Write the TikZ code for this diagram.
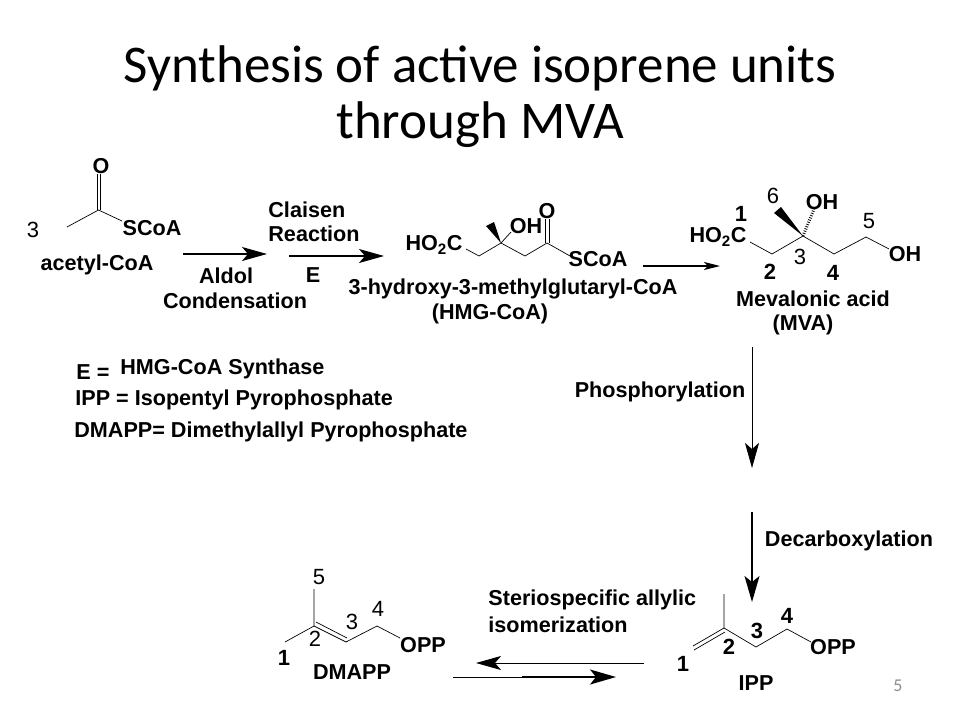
\documentclass[tikz,border=0pt]{standalone}
\usepackage{fontspec}
\setmainfont{Liberation Sans}
\newfontfamily\titlefont{Carlito}
\usetikzlibrary{arrows.meta,calc}

\begin{document}
\begin{tikzpicture}[x=1pt,y=-1pt,thick,
titulo/.style ={inner sep=0pt, font=\titlefont\fontsize{53}{53}\selectfont},
chem/.style ={inner sep=0pt, font=\bfseries\fontsize{21.6}{21.6}\selectfont},
chemleft/.style ={chem, anchor=west},
num/.style ={inner sep=0pt, font=\fontsize{22}{22}\selectfont},
numb/.style ={chem, font=\bfseries\fontsize{22}{22}\selectfont},
bond/.style ={line width=0.7pt},
wedge/.style ={fill=black, draw=none},
hash/.style ={line width=3pt, dash pattern=on 0.8pt off 1.6pt},
flecha/.style ={line width=1.2pt, -{Stealth[length=25pt,width=14pt,inset=6pt]}},
corta/.style ={line width=1.2pt, -{Stealth[length=16pt,width=8pt,inset=4pt]}},
fina/.style ={line width=0.8pt, -{Stealth[length=25pt,width=14pt,inset=6pt]}},
gorda/.style ={line width=1.7pt, -{Stealth[length=26pt,width=15pt,inset=6pt]}}
]
\useasboundingbox (0,0) rectangle (960,720);
% title
\draw (480,68) node[titulo] (T1) {Synthesis of active isoprene units};
\draw (480,125) node[titulo] (T2) {through MVA};

% acetyl-CoA
\draw (101,166) node[chem] (AO) {O};
\draw (152,228) node[chem] (AS) {SCoA};
\draw (33,230) node[num] (A3) {3};
\draw (97,265) node[chem] (AN) {acetyl-CoA};
\coordinate (AC) at (98.5,210);
\coordinate (AM) at (67,227);
\draw[bond] (AM)--(AC)--(122,221);
\draw[bond] (97,174)--(97,210);
\draw[bond] (100.7,174)--(100.7,210);

% first arrows
\coordinate (F1a) at (183,254);
\coordinate (F1b) at (267,254);
\draw[flecha] (F1a)--(F1b);
\draw (226,276) node[chem] (Ald) {Aldol};
\draw (235,301) node[chem] (Con) {Condensation};
\draw (268,210) node[chemleft] (Cla) {Claisen};
\draw (268,234) node[chemleft] (Rea) {Reaction};
\draw (313,275) node[chem] (E) {E};
\coordinate (F2a) at (289,256);
\coordinate (F2b) at (384,256);
\draw[flecha] (F2a)--(F2b);

% HMG-CoA
\draw (434,245) node[chem] (HC) {HO\textsubscript{2}C};
\draw (526,226) node[chem] (HOH) {OH};
\draw (547,211) node[chem] (HO) {O};
\draw (598,259) node[chem] (HS) {SCoA};
\draw (513,289) node[chem] (HN) {3-hydroxy-3-methylglutaryl-CoA};
\draw (490,314) node[chem] (HN2) {(HMG-CoA)};
\coordinate (H1) at (466,249);
\coordinate (H2) at (479,256);
\coordinate (H3) at (501,243);
\coordinate (H4) at (525,256);
\coordinate (H5) at (547,243);
\coordinate (H6) at (570,256);
\draw[bond] (H1)--(H2)--(H3)--(H4)--(H5)--(H6);
\draw[bond] (H3)--(511,232);
\fill[wedge] (H3)--(486,226)--(494,222)--cycle;
\draw[bond] (545.5,219)--(545.5,243);
\draw[bond] (549.5,219)--(549.5,243);

\coordinate (F3a) at (643,266);
\coordinate (F3b) at (720,266);
\draw[corta] (F3a)--(F3b);

% MVA
\draw (718,237) node[chem] (MC) {HO\textsubscript{2}C};
\draw (741,214) node[numb] (M1) {1};
\draw (773,196) node[num] (M6) {6};
\draw (822,202) node[chem] (MOH) {OH};
\draw (869,221) node[num] (M5) {5};
\draw (905,254) node[chem] (MOH2) {OH};
\draw (770,272) node[numb] (M2) {2};
\draw (800,257) node[num] (M3) {3};
\draw (833,273) node[numb] (M4) {4};
\draw (813,299) node[chem] (MN) {Mevalonic acid};
\draw (803,325) node[chem] (MN2) {(MVA)};
\coordinate (V1) at (750,242);
\coordinate (V2) at (772,254);
\coordinate (V3) at (803,236);
\coordinate (V4) at (834,254);
\coordinate (V5) at (866,237);
\coordinate (V6) at (889,249);
\draw[bond] (V1)--(V2)--(V3)--(V4)--(V5)--(V6);
\fill[wedge] (V3)--(774,213)--(781,207)--cycle;
\draw[hash] (V3)--(814,209);

% legend
\draw (76,372) node[chemleft] (L1) {E =};
\draw (120,369) node[chemleft] (L2) {HMG-CoA Synthase};
\draw (75,400) node[chemleft] (L3) {IPP = Isopentyl Pyrophosphate};
\draw (74,432) node[chemleft] (L4) {DMAPP= Dimethylallyl Pyrophosphate};

% vertical arrows
\coordinate (F4a) at (752,347);
\coordinate (F4b) at (752,468);
\draw[fina] (F4a)--(F4b);
\draw (660,392) node[chem] (Pho) {Phosphorylation};
\coordinate (F5a) at (752,512);
\coordinate (F5b) at (752,602);
\draw[gorda] (F5a)--(F5b);
\draw (849,541) node[chem] (Dec) {Decarboxylation};

% IPP
\coordinate (I5) at (724,594);
\coordinate (I2) at (724,628);
\coordinate (I1) at (693,646);
\coordinate (I3) at (756,647);
\coordinate (I4) at (787,629);
\coordinate (I0) at (811,642);
\draw[bond] (I5)--(I2)--(I1);
\draw[bond] (I2)--(I3)--(I4)--(I0);
\draw[bond] (725,632)--(694,650);
\draw (833,647) node[chem] (IO) {OPP};
\draw (683,664) node[numb] (I1n) {1};
\draw (729,647) node[numb] (I2n) {2};
\draw (757,631) node[numb] (I3n) {3};
\draw (787,616) node[numb] (I4n) {4};
\draw (756,683) node[chem] (IN) {IPP};

% isomerization
\draw (488,600) node[chemleft] (S1) {Steriospecific allylic};
\draw (488,625) node[chemleft] (S2) {isomerization};
\coordinate (F6a) at (644,663);
\coordinate (F6b) at (476,663);
\draw[fina] (F6a)--(F6b);
\coordinate (F7a) at (453,677);
\coordinate (F7m) at (522,677);
\coordinate (F7b) at (616,677);
\draw[bond] (F7a)--(F7m);
\draw[gorda] (F7m)--(F7b);

% DMAPP
\coordinate (D5) at (314,589);
\coordinate (D2) at (314,626);
\coordinate (D1) at (285,642);
\coordinate (D3) at (346,642);
\coordinate (D4) at (377,626);
\coordinate (D0) at (400,638);
\draw[bond] (D5)--(D2)--(D1);
\draw[bond] (D2)--(D3)--(D4)--(D0);
\draw[bond] (316,622)--(347,638);
\draw (423,645) node[chem] (DO) {OPP};
\draw (319,577) node[num] (D5n) {5};
\draw (284,658) node[numb] (D1n) {1};
\draw (315,639) node[num] (D2n) {2};
\draw (352,622) node[num] (D3n) {3};
\draw (378,609) node[num] (D4n) {4};
\draw (352,672) node[chem] (DN) {DMAPP};

% page number
\draw (898,686) node[inner sep=0pt, text=black!45, font=\titlefont\fontsize{18}{18}\selectfont] (Pg) {5};
\end{tikzpicture}
\end{document}
